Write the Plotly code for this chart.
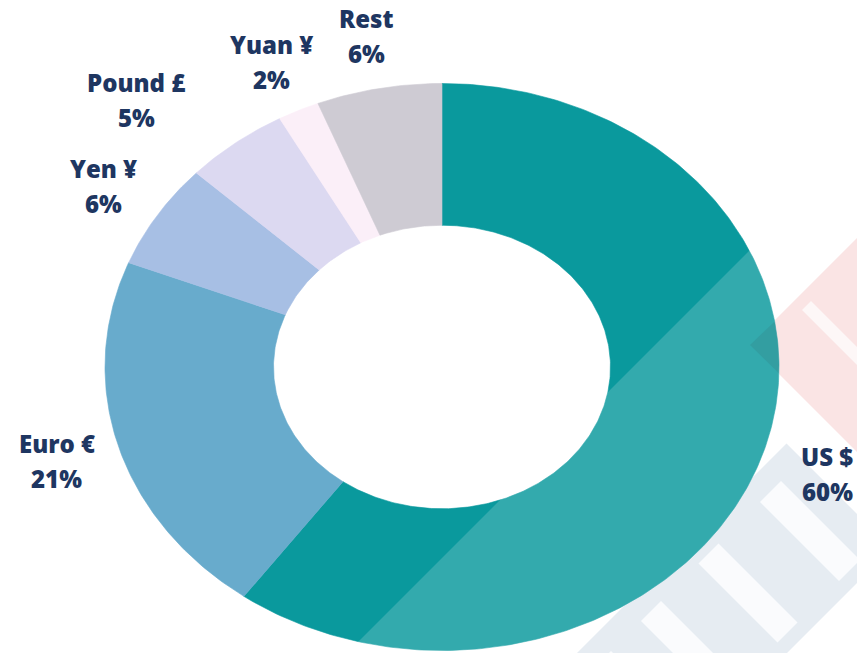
import numpy as np
import plotly.graph_objects as go

# Share of global currency reserves (%)
currencies = ["US $", "Euro €", "Yen ¥", "Pound £", "Yuan ¥", "Rest"]
shares = [60, 21, 6, 5, 2, 6]
slice_colors = ["#0A999D", "#68ABCC", "#A7BFE4", "#DCD9F1", "#FBEFF8", "#CECBD3"]

# Canvas / ring geometry (plot units == pixels)
W, H = 857, 653
CX, CY = 442, 367
RX, RY = 337, 283.5
HOLE = 0.5
LABEL_R = 1.19
LINE_GAP = 35
label_nudge = {"Pound £": (-60, 0), "US $": (4, 3)}
TEXT_COLOR = "#1E3661"
LABEL_FONT = dict(family="Open Sans", size=24, color=TEXT_COLOR, weight=800)

fig = go.Figure()

total = float(sum(shares))
start = 0.0
annotations = []
for name, val, col in zip(currencies, shares, slice_colors):
    a0 = start / total * 2 * np.pi
    a1 = (start + val) / total * 2 * np.pi
    t = np.linspace(a0, a1, max(12, int(val * 5)))
    xo = CX + RX * np.sin(t)
    yo = CY - RY * np.cos(t)
    xi = CX + HOLE * RX * np.sin(t[::-1])
    yi = CY - HOLE * RY * np.cos(t[::-1])
    xs = np.concatenate([xo, xi, xo[:1]])
    ys = np.concatenate([yo, yi, yo[:1]])
    fig.add_trace(go.Scatter(
        x=xs, y=ys, mode="lines", fill="toself", fillcolor=col,
        line=dict(color=col, width=0.6), hoveron="fills",
        name=name, text=f"{name}: {val}%", hoverinfo="text", showlegend=False,
    ))

    mid = (a0 + a1) / 2
    dx, dy = label_nudge.get(name, (0, 0))
    lx = CX + LABEL_R * RX * np.sin(mid) + dx
    ly = CY - LABEL_R * RY * np.cos(mid) + dy
    for txt, off in ((name, -LINE_GAP / 2), (f"{val}%", LINE_GAP / 2)):
        annotations.append(dict(
            x=lx, y=ly + off, xref="x", yref="y", text=txt, showarrow=False,
            xanchor="center", yanchor="middle", font=LABEL_FONT,
        ))
    start += val


def poly(points):
    return "M " + " L ".join(f"{x:.1f},{y:.1f}" for x, y in points) + " Z"


def rot(u, v):
    # (u, v) = (x + y, y - x) diagonal frame -> (x, y)
    return ((u - v) / 2, (u + v) / 2)


def band(u0, u1, v0, v1):
    return poly([rot(u0, v0), rot(u1, v0), rot(u1, v1), rot(u0, v1)])


shapes = []
# faint diagonal stamp in the lower-right corner
shapes.append(dict(type="path", xref="x", yref="y", layer="below", line_width=0,
                   fillcolor="#F9DFDF", path=band(1095, 1450, -405, -720)))
shapes.append(dict(type="path", xref="x", yref="y", layer="below", line_width=0,
                   fillcolor="#FDF6F6", path=band(1112, 1300, -510, -492)))
shapes.append(dict(type="path", xref="x", yref="y", layer="below", line_width=0,
                   fillcolor="#E1E8F0", path=band(1230, 1440, -343, 320)))
for v0, v1 in ((-300, -258), (-175, -135), (-60, -20), (40, 75)):
    shapes.append(dict(type="path", xref="x", yref="y", layer="below", line_width=0,
                       fillcolor="#F9FBFD", path=band(1262, 1420, v0, v1)))

# where the stamp crosses the ring edge it tints the teal slightly darker
tt = np.linspace(0.0, np.pi, 721)
ex = CX + RX * np.sin(tt)
ey = CY - RY * np.cos(tt)
inside = (ex + ey >= 1095) & (ey - ex <= -405)
if inside.any():
    pts = [rot(1095, -405)] + list(zip(ex[inside], ey[inside]))
    shapes.append(dict(type="path", xref="x", yref="y", layer="above", line_width=0,
                       fillcolor="rgba(10,70,75,0.16)", path=poly(pts)))

# translucent light sweep across the lower-right of the ring
shapes.append(dict(type="path", xref="x", yref="y", layer="above", line_width=0,
                   fillcolor="rgba(255,255,255,0.17)",
                   path=poly([(347, 653), (857, 143), (857, 653)])))

fig.update_layout(
    width=W, height=H,
    margin=dict(l=0, r=0, t=0, b=0),
    paper_bgcolor="white", plot_bgcolor="white",
    xaxis=dict(range=[0, W], visible=False, fixedrange=True),
    yaxis=dict(range=[H, 0], visible=False, fixedrange=True),
    annotations=annotations, shapes=shapes,
    showlegend=False,
)

fig.write_html("out.html")
